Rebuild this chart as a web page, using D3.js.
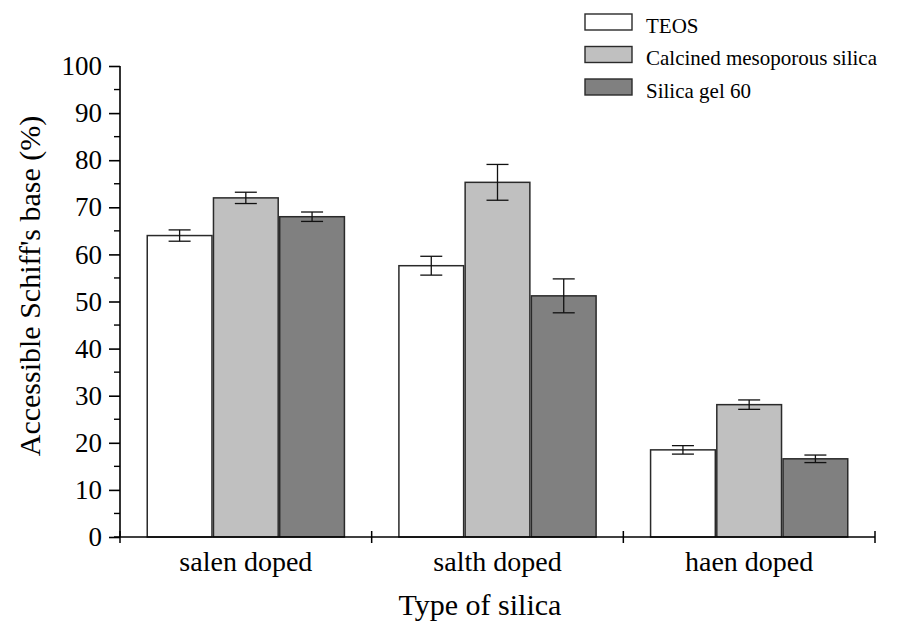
<!DOCTYPE html>
<html>
<head>
<meta charset="utf-8">
<script src="https://cdn.jsdelivr.net/npm/d3@7"></script>
<style>
  html, body { margin: 0; padding: 0; background: #fff; }
  svg { display: block; }
  svg text { font-family: "Liberation Serif", "Times New Roman", serif; }
</style>
</head>
<body>
<svg id="chart" width="904" height="624"></svg>
<script>
// Accessible Schiff's base by silica type
const categories = ["salen doped", "salth doped", "haen doped"];
const seriesNames = ["TEOS", "Calcined mesoporous silica", "Silica gel 60"];
const teosValues = [64.0, 57.6, 18.5];
const calcinedValues = [72.0, 75.3, 28.1];
const gelValues = [68.0, 51.2, 16.6];
const teosErrors = [1.2, 2.0, 0.9];
const calcinedErrors = [1.2, 3.8, 1.0];
const gelErrors = [1.0, 3.6, 0.8];
const yTicks = [0, 10, 20, 30, 40, 50, 60, 70, 80, 90, 100];
const seriesFills = ["#ffffff", "#c0c0c0", "#808080"];

const values = [teosValues, calcinedValues, gelValues];
const errors = [teosErrors, calcinedErrors, gelErrors];

const serif = "'Liberation Serif', 'Times New Roman', serif";
const svg = d3.select("#chart");
const plot = { left: 120, right: 875, top: 66, bottom: 537 };

const x = d3.scaleBand().domain(categories).range([plot.left, plot.right]).paddingInner(0).paddingOuter(0);
const xs = d3.scaleBand().domain(seriesNames).range([0, x.bandwidth()]).paddingOuter(0.4).paddingInner(0.0);
const y = d3.scaleLinear().domain([0, 100]).range([plot.bottom, plot.top]);

// bars
const groups = svg.append("g").selectAll("g")
  .data(categories)
  .join("g")
  .attr("transform", d => `translate(${x(d)},0)`);

groups.each(function(cat, ci) {
  const g = d3.select(this);
  seriesNames.forEach((s, si) => {
    const v = values[si][ci];
    g.append("rect")
      .attr("x", xs(s) + 0.75)
      .attr("width", xs.bandwidth() - 1.5)
      .attr("y", y(v))
      .attr("height", y(0) - y(v))
      .attr("fill", seriesFills[si])
      .attr("stroke", "#2a2a2a")
      .attr("stroke-width", 1.5);
  });
});

// error bars
groups.each(function(cat, ci) {
  const g = d3.select(this);
  seriesNames.forEach((s, si) => {
    const v = values[si][ci], e = errors[si][ci];
    const cx = xs(s) + xs.bandwidth() / 2;
    const capHalf = 11;
    const eg = g.append("g").attr("stroke", "#111").attr("stroke-width", 1.3).attr("fill", "none");
    eg.append("line").attr("x1", cx).attr("x2", cx).attr("y1", y(v + e)).attr("y2", y(v - e));
    eg.append("line").attr("x1", cx - capHalf).attr("x2", cx + capHalf).attr("y1", y(v + e)).attr("y2", y(v + e));
    eg.append("line").attr("x1", cx - capHalf).attr("x2", cx + capHalf).attr("y1", y(v - e)).attr("y2", y(v - e));
  });
});

// y axis with labelled major ticks
const yAxis = d3.axisLeft(y).tickValues(yTicks).tickSize(11).tickPadding(7).tickFormat(d3.format("d"));
const yg = svg.append("g").attr("transform", `translate(${plot.left},0)`).call(yAxis);
yg.attr("font-family", serif).attr("font-size", 27);
yg.select(".domain").attr("stroke", "#000").attr("stroke-width", 1.6).attr("d", `M0,${plot.bottom}V${plot.top}`);
yg.selectAll(".tick line").attr("stroke", "#000").attr("stroke-width", 1.6);
yg.selectAll(".tick text").attr("font-size", 27).attr("fill", "#000").attr("font-family", serif);

// minor ticks
const minorTicks = d3.range(5, 100, 10);
svg.append("g").selectAll("line").data(minorTicks).join("line")
  .attr("x1", plot.left - 6).attr("x2", plot.left)
  .attr("y1", d => y(d)).attr("y2", d => y(d))
  .attr("stroke", "#000").attr("stroke-width", 1.4);

// x axis line with category boundary ticks
svg.append("line").attr("x1", plot.left - 6).attr("x2", plot.right).attr("y1", plot.bottom).attr("y2", plot.bottom)
  .attr("stroke", "#000").attr("stroke-width", 1.6);
const boundaries = categories.map(c => x(c)).concat([x(categories[categories.length - 1]) + x.bandwidth()]);
svg.append("g").selectAll("line").data(boundaries).join("line")
  .attr("x1", d => d).attr("x2", d => d)
  .attr("y1", plot.bottom - 6).attr("y2", plot.bottom + 6)
  .attr("stroke", "#000").attr("stroke-width", 1.5);

// category labels
svg.append("g").selectAll("text").data(categories).join("text")
  .attr("x", d => x(d) + x.bandwidth() / 2)
  .attr("y", 571)
  .attr("text-anchor", "middle")
  .attr("font-family", serif)
  .attr("font-size", 28)
  .attr("fill", "#000")
  .text(d => d);

// axis titles
svg.append("text")
  .attr("x", 480).attr("y", 615)
  .attr("text-anchor", "middle")
  .attr("font-family", serif)
  .attr("font-size", 30)
  .attr("fill", "#000")
  .text("Type of silica");

svg.append("text")
  .attr("transform", `translate(40,286) rotate(-90)`)
  .attr("text-anchor", "middle")
  .attr("font-family", serif)
  .attr("font-size", 30)
  .attr("fill", "#000")
  .text("Accessible Schiff's base (%)");

// legend
const legend = svg.append("g").attr("transform", "translate(585,14)");
seriesNames.forEach((s, i) => {
  const row = legend.append("g").attr("transform", `translate(0,${i * 32.5})`);
  row.append("rect").attr("x", 0).attr("y", 0).attr("width", 47).attr("height", 16)
    .attr("fill", seriesFills[i]).attr("stroke", "#2a2a2a").attr("stroke-width", 1.4);
  row.append("text").attr("x", 61).attr("y", 18.5)
    .attr("font-family", serif)
    .attr("font-size", 21).attr("fill", "#000").text(s);
});
</script>
</body>
</html>
